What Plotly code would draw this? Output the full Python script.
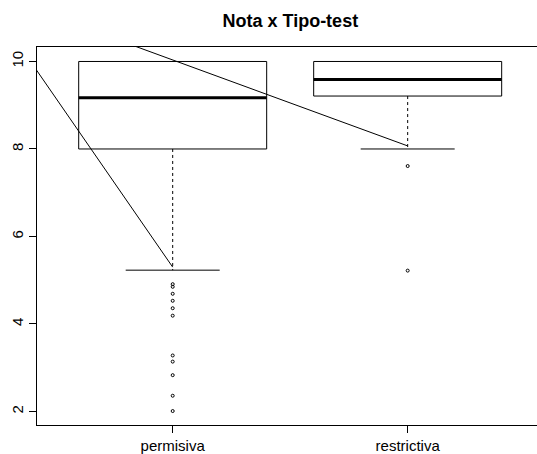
import plotly.graph_objects as go

# Categories and five-number summaries of "Nota" by "Tipo-test"
categorias = ["permisiva", "restrictiva"]
q1 = [8.0, 9.21]
mediana = [9.17, 9.59]
q3 = [10.0, 10.0]
bigote_inf = [5.23, 8.0]
bigote_sup = [10.0, 10.0]

# Atypical values per group
atipicos_permisiva = [4.91, 4.85, 4.69, 4.53, 4.36, 4.19, 3.28, 3.14, 2.83, 2.36, 2.01]
atipicos_restrictiva = [7.61, 5.22]
atipicos = [atipicos_permisiva, atipicos_restrictiva]

# Two reference lines drawn over the boxes
linea1_x = [0, 1]
linea1_y = [13.07, 5.30]
linea2_x = [0, 2]
linea2_y = [12.0, 8.07]

ANCHO_CAJA = 0.8
ANCHO_TOPE = 0.4
NEGRO = "#000000"

fig = go.Figure()

for i, cat in enumerate(categorias):
    c = i + 1
    a = ANCHO_CAJA / 2
    t = ANCHO_TOPE / 2
    # box outline
    fig.add_trace(go.Scatter(
        x=[c - a, c + a, c + a, c - a, c - a],
        y=[q1[i], q1[i], q3[i], q3[i], q1[i]],
        mode="lines", line=dict(color=NEGRO, width=1),
        hoverinfo="skip", showlegend=False))
    # median
    fig.add_trace(go.Scatter(
        x=[c - a, c + a], y=[mediana[i], mediana[i]],
        mode="lines", line=dict(color=NEGRO, width=3),
        hoverinfo="skip", showlegend=False))
    # lower whisker (dashed) and staple
    if bigote_inf[i] < q1[i]:
        fig.add_trace(go.Scatter(
            x=[c, c], y=[q1[i], bigote_inf[i]],
            mode="lines", line=dict(color=NEGRO, width=1, dash="3px,3px"),
            hoverinfo="skip", showlegend=False))
        fig.add_trace(go.Scatter(
            x=[c - t, c + t], y=[bigote_inf[i], bigote_inf[i]],
            mode="lines", line=dict(color=NEGRO, width=1),
            hoverinfo="skip", showlegend=False))
    # upper whisker (dashed) and staple
    if bigote_sup[i] > q3[i]:
        fig.add_trace(go.Scatter(
            x=[c, c], y=[q3[i], bigote_sup[i]],
            mode="lines", line=dict(color=NEGRO, width=1, dash="3px,3px"),
            hoverinfo="skip", showlegend=False))
        fig.add_trace(go.Scatter(
            x=[c - t, c + t], y=[bigote_sup[i], bigote_sup[i]],
            mode="lines", line=dict(color=NEGRO, width=1),
            hoverinfo="skip", showlegend=False))
    # outliers
    fig.add_trace(go.Scatter(
        x=[c] * len(atipicos[i]), y=atipicos[i],
        mode="markers",
        marker=dict(symbol="circle-open", size=3, color=NEGRO, line=dict(width=1)),
        hoverinfo="skip", showlegend=False))

for lx, ly in [(linea1_x, linea1_y), (linea2_x, linea2_y)]:
    fig.add_trace(go.Scatter(
        x=lx, y=ly, mode="lines", line=dict(color=NEGRO, width=1),
        hoverinfo="skip", showlegend=False))

fig.update_layout(
    width=537, height=454,
    margin=dict(l=37, r=0, t=47, b=29),
    paper_bgcolor="white", plot_bgcolor="white",
    font=dict(family="Liberation Sans, Arial, sans-serif", color=NEGRO, size=15),
    title=dict(text="<b>Nota x Tipo-test</b>", x=0.5406, xanchor="center",
               y=1 - 21 / 454, yanchor="middle",
               font=dict(size=18, family="Liberation Sans, Arial, sans-serif")),
    xaxis=dict(
        range=[0.4226, 2.5503],
        tickmode="array", tickvals=[1, 2], ticktext=categorias,
        showgrid=False, zeroline=False,
        showline=True, linecolor=NEGRO, linewidth=1, mirror=True,
        ticks="outside", ticklen=7, tickcolor=NEGRO, tickwidth=1,
        tickfont=dict(size=15),
    ),
    yaxis=dict(
        range=[1.691, 10.331],
        tickmode="array", tickvals=[2, 4, 6, 8, 10],
        showgrid=False, zeroline=False,
        showline=True, linecolor=NEGRO, linewidth=1,
        ticks="outside", ticklen=7, tickcolor=NEGRO, tickwidth=1,
        tickangle=-90, tickfont=dict(size=15),
    ),
)

fig.write_html("out.html")
